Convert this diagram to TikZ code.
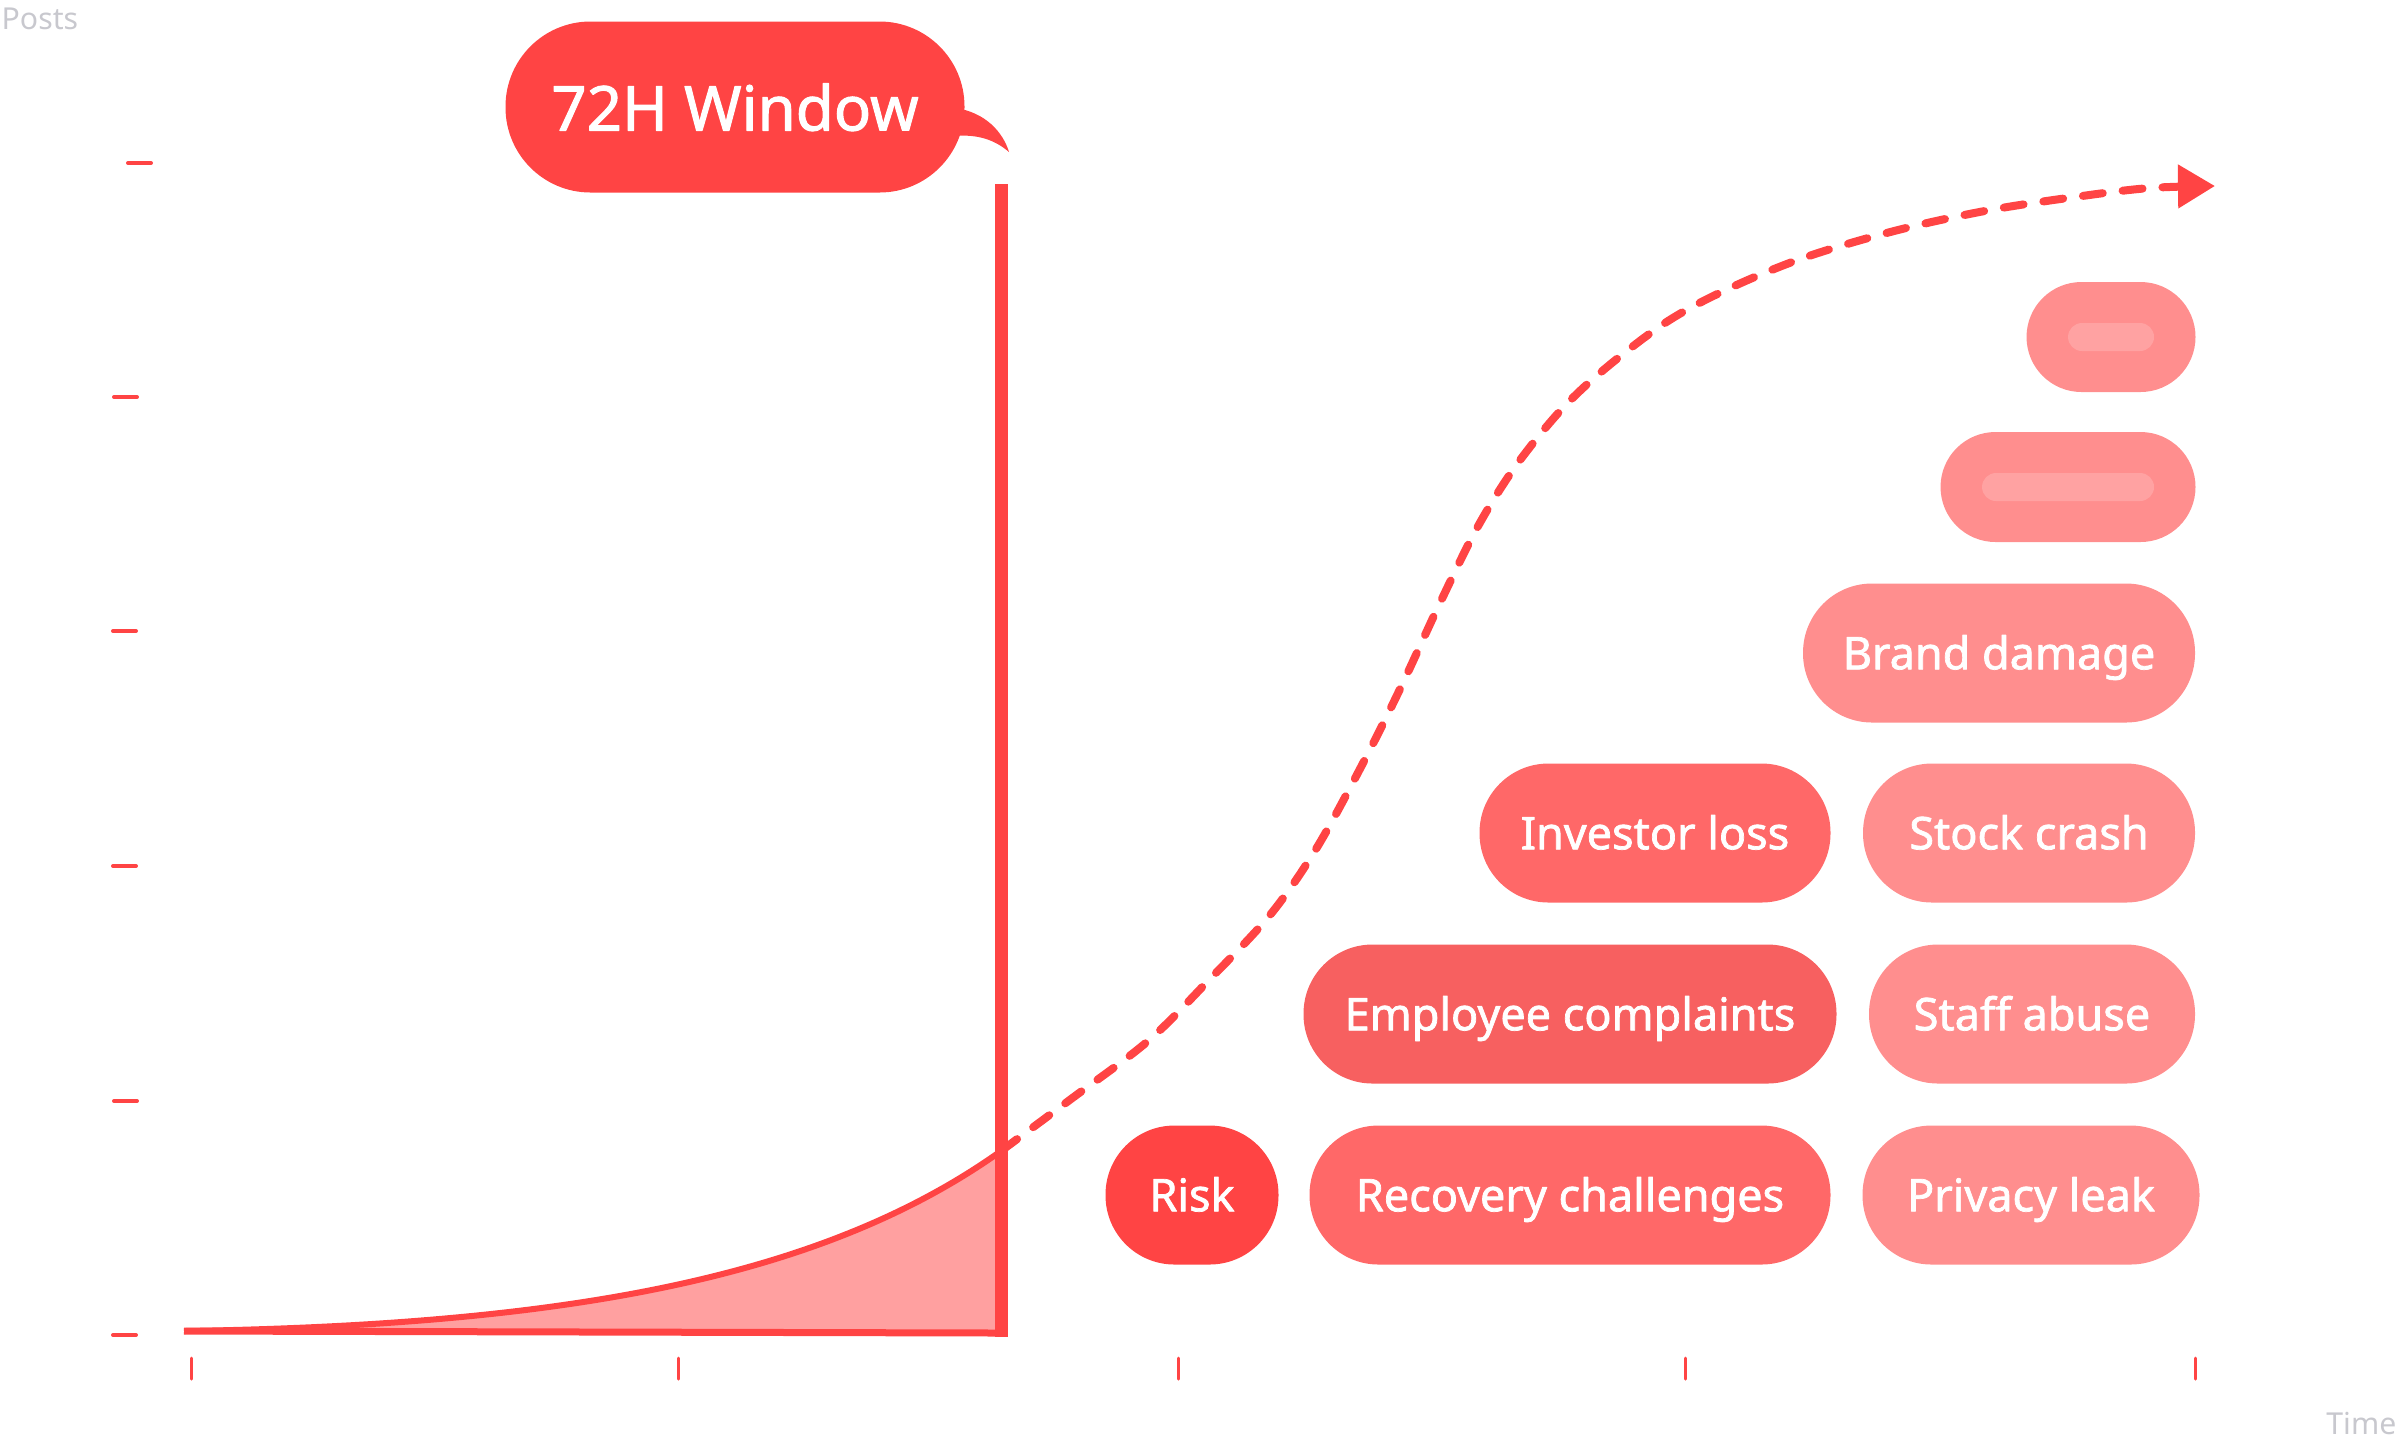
\documentclass[tikz,border=0pt]{standalone}
\usepackage{fontspec}
\setmainfont{Noto Sans}[AutoFakeBold=1.6]
\usetikzlibrary{arrows.meta,calc}
\definecolor{alertred}{RGB}{255,68,68}
\definecolor{pillred}{RGB}{255,104,104}
\definecolor{pilldeep}{RGB}{247,96,96}
\definecolor{pillpink}{RGB}{255,142,142}
\definecolor{barpink}{RGB}{255,162,162}
\definecolor{areapink}{RGB}{255,160,160}
\definecolor{labelgray}{RGB}{200,200,206}
\tikzset{
  pill/.style={rectangle, rounded corners=0.69cm, minimum height=1.39cm, inner sep=0pt,
    text height=0.325cm, text depth=0pt, text=white, font=\fontsize{12.8}{15}\selectfont\bfseries},
  blankpill/.style={rectangle, rounded corners=0.55cm, minimum height=1.1cm, inner sep=0pt, fill=pillpink},
  pillbar/.style={rectangle, rounded corners=0.14cm, minimum height=0.28cm, inner sep=0pt, fill=barpink},
  ytick/.style={alertred, line width=0.04cm, line cap=round},
  xtick/.style={alertred, line width=0.03cm, line cap=round},
  axislabel/.style={labelgray, inner sep=0pt, font=\fontsize{8.6}{10}\selectfont},
}
\newcommand{\emptypill}[4]{%
  % #1 = node name, #2 = centre, #3 = outer width, #4 = bar width
  \node[blankpill, minimum width=#3] (#1) at (#2) {};
  \node[pillbar, minimum width=#4] (#1bar) at (#1.center) {};
}

\begin{document}
\begin{tikzpicture}[x=0.1mm, y=-0.1mm, >=Latex, line join=round]
\useasboundingbox (0,0) rectangle (2400,1444);

% ============ AXES: ticks and faint labels ============
\foreach \x/\y in {128/163, 114/397, 113/631, 113/866, 114/1101, 113/1335}
  \draw[ytick] (\x,\y) -- ++(23,0);
\foreach \x in {191,678,1178,1685,2195}
  \draw[xtick] (\x,1358) -- (\x,1379);
\node[axislabel, anchor=base west] (postslabel) at (1,29) {Posts};
\node[axislabel, anchor=base east] (timelabel) at (2397,1434) {Time};

% ============ GROWTH CURVE: filled part inside the window ============
\coordinate (curvestart) at (184,1331);
\coordinate (junction) at (1001,1151);
\coordinate (winfoot) at (1001,1333);
\fill[areapink] (curvestart) .. controls (560,1325) and (820,1280) .. (junction) -- (winfoot) -- cycle;
\draw[alertred, line width=0.06cm] (curvestart) .. controls (560,1325) and (820,1280) .. (junction);
\draw[alertred, line width=0.07cm] (curvestart) -- (winfoot);

% dashed continuation after the window closes
\draw[alertred, line width=0.08cm, line cap=round, dash pattern=on 0.2cm off 0.2cm,
      -{Triangle[length=0.37cm, width=0.42cm]}]
  plot[smooth, tension=0.55] coordinates {(junction) (1071,1099) (1148,1041) (1209,980)
    (1270,915) (1316,849) (1362,765) (1400,689) (1439,605) (1477,528) (1515,467)
    (1561,410) (1607,367) (1668,321) (1730,288) (1806,257) (1898,230) (1990,210)
    (2082,196) (2150,188) (2215,186)};

% ============ 72H WINDOW: vertical bar + speech bubble ============
\coordinate (wintop) at (1001,184);
\draw[alertred, line width=0.13cm] (wintop) -- ($(winfoot)+(0,4)$);
\node[fill=alertred, rectangle, rounded corners=0.85cm, minimum width=4.59cm, minimum height=1.71cm,
      inner sep=0pt, text height=0.47cm, text depth=0pt, text=white,
      font=\fontsize{17.6}{21}\selectfont\bfseries] (callout) at (735,107) {72H Window};
% bubble tail
\fill[alertred] (955,108) .. controls (985,112) and (1003,132) .. (1009,152)
  .. controls (995,140) and (978,134) .. (955,136) -- cycle;

% ============ CONSEQUENCE PILLS ============
\node[pill, fill=alertred, minimum width=1.73cm] (risk) at (1192,1195) {Risk};
\node[pill, fill=pillred, minimum width=5.21cm] (recovery) at (1570,1195) {Recovery challenges};
\node[pill, fill=pillpink, minimum width=3.37cm] (privacy) at (2031,1195) {Privacy leak};

\node[pill, fill=pilldeep, minimum width=5.33cm] (employee) at (1570,1014) {Employee complaints};
\node[pill, fill=pillpink, minimum width=3.26cm] (staff) at (2032,1014) {Staff abuse};

\node[pill, fill=pillred, minimum width=3.51cm] (investor) at (1655,833) {Investor loss};
\node[pill, fill=pillpink, minimum width=3.32cm] (stock) at (2029,833) {Stock crash};

\node[pill, fill=pillpink, minimum width=3.92cm] (brand) at (1999,653) {Brand damage};

% placeholder pills, no text yet
\emptypill{blanklow}{2068,487}{2.55cm}{1.72cm}
\emptypill{blanktop}{2111,337}{1.69cm}{0.86cm}
\end{tikzpicture}
\end{document}
